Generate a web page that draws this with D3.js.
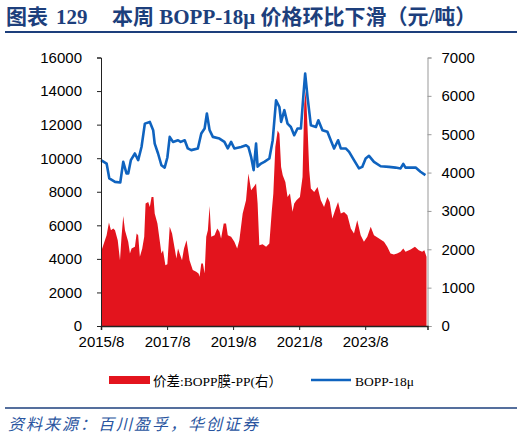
<!DOCTYPE html>
<html>
<head>
<meta charset="utf-8">
<script src="https://cdn.jsdelivr.net/npm/d3@7"></script>
<style>
  body { margin: 0; background: #fff; }
  svg { display: block; }
</style>
</head>
<body>
<svg id="chart" width="522" height="440"></svg>
<script>
// BOPP-18μ price (left axis)
const priceDates = ["2015-08-01","2015-10-02","2015-11-01","2016-01-03","2016-03-01","2016-04-03","2016-05-09","2016-05-28","2016-06-26","2016-08-10","2016-09-15","2016-10-22","2016-11-28","2017-01-22","2017-02-28","2017-03-17","2017-04-23","2017-05-30","2017-07-05","2017-08-04","2017-08-30","2017-10-05","2017-11-30","2017-12-29","2018-02-12","2018-03-18","2018-04-25","2018-07-07","2018-08-14","2018-09-20","2018-10-15","2018-11-14","2018-12-20","2019-03-03","2019-04-27","2019-06-03","2019-07-10","2019-08-15","2019-10-28","2019-12-22","2020-01-17","2020-02-16","2020-03-15","2020-04-11","2020-04-28","2020-06-05","2020-07-11","2020-09-05","2020-10-12","2020-11-18","2020-12-25","2021-01-13","2021-02-18","2021-03-25","2021-05-01","2021-06-07","2021-07-13","2021-08-20","2021-09-18","2021-10-06","2021-11-01","2021-12-08","2022-02-02","2022-03-01","2022-04-15","2022-06-09","2022-07-16","2022-08-22","2022-10-05","2022-11-04","2022-12-29","2023-02-04","2023-03-30","2023-05-24","2023-06-29","2023-08-06","2023-09-12","2023-11-06","2024-01-19","2024-04-19","2024-07-01","2024-08-26","2024-09-25","2024-10-20","2025-02-09","2025-04-03","2025-05-28"];
const priceValues = [9880,9680,8790,8590,8550,9780,9090,9090,9880,10280,9880,10670,12060,12160,11670,10870,10280,9580,9440,10040,11270,10970,11070,10970,11070,10580,10480,10580,11470,11770,12660,11670,11270,11170,10970,10580,10970,10580,10670,10770,10670,10080,9290,10870,9500,9680,9780,9980,11070,13450,13050,12160,12860,12060,11860,11370,11770,11770,13850,15040,13650,11960,11860,12260,11670,11570,11070,10580,11070,10580,10580,10380,9880,9390,9480,9980,10140,9780,9520,9480,9440,9390,9660,9440,9440,9190,8990];

// 价差:BOPP膜-PP (right axis)
const spreadDates = ["2015-08-01","2015-08-26","2015-10-02","2015-10-28","2015-11-19","2015-12-15","2016-01-03","2016-02-02","2016-02-27","2016-03-15","2016-04-03","2016-04-22","2016-05-28","2016-06-16","2016-07-04","2016-08-10","2016-08-29","2016-09-15","2016-10-04","2016-10-30","2016-11-21","2016-12-06","2017-01-04","2017-01-22","2017-02-10","2017-03-03","2017-03-17","2017-04-16","2017-05-11","2017-05-30","2017-06-17","2017-07-13","2017-08-04","2017-08-30","2017-09-25","2017-10-24","2017-11-12","2017-11-30","2017-12-18","2018-01-13","2018-02-04","2018-03-04","2018-04-06","2018-05-12","2018-06-19","2018-07-15","2018-07-26","2018-08-14","2018-09-01","2018-09-20","2018-10-08","2018-10-26","2018-11-14","2018-12-02","2019-01-08","2019-02-07","2019-03-03","2019-03-21","2019-04-19","2019-05-15","2019-06-03","2019-07-10","2019-08-15","2019-09-15","2019-10-09","2019-11-15","2019-12-22","2020-01-17","2020-02-16","2020-03-15","2020-04-11","2020-04-28","2020-05-17","2020-06-22","2020-07-31","2020-09-05","2020-10-01","2020-10-19","2020-11-10","2020-12-06","2020-12-25","2021-01-13","2021-01-31","2021-03-01","2021-03-25","2021-04-21","2021-05-19","2021-06-07","2021-07-02","2021-08-09","2021-09-07","2021-09-26","2021-10-14","2021-11-01","2021-11-20","2021-12-08","2022-01-14","2022-02-20","2022-03-28","2022-05-03","2022-06-09","2022-07-05","2022-08-03","2022-09-02","2022-10-05","2022-11-04","2022-12-10","2023-01-16","2023-02-23","2023-03-30","2023-05-05","2023-06-12","2023-07-18","2023-08-24","2023-10-01","2023-11-06","2024-01-01","2024-02-25","2024-04-01","2024-05-07","2024-06-13","2024-07-19","2024-08-26","2024-09-25","2024-10-20","2024-12-15","2025-02-01","2025-03-16","2025-04-22","2025-05-16","2025-06-09"];
const spreadValues = [1930,2108,2368,2698,2498,2541,2498,2238,1717,2324,2871,2498,2194,1890,2021,2064,2411,2368,1804,2021,2324,3192,3236,3105,3365,3365,2932,2672,2238,1890,1977,1587,1610,2585,2411,2021,1760,2021,1890,1717,2021,2238,1717,1457,1414,1370,1283,1630,1630,1370,2324,2498,3131,2324,2368,2541,2454,2281,2672,2672,2368,2324,2194,2021,2238,2932,3279,3973,3539,3626,3713,3192,2108,2130,2064,2151,2975,3453,4666,5100,5013,4145,3930,3755,3365,3453,2980,3192,3279,3365,3886,5795,6141,5186,4059,3583,3496,3625,3279,3105,3365,3236,2802,3019,3235,2932,2975,2889,2541,2411,2758,2368,2194,2324,2585,2368,2281,2194,2064,1890,1864,1890,1934,2021,1934,1995,2064,1977,1934,1977,1804];

const xTickDates = ["2015-08-01","2017-08-01","2019-08-01","2021-08-01","2023-08-01"];
const xTickLabels = ["2015/8","2017/8","2019/8","2021/8","2023/8"];
const leftTicks = [0,2000,4000,6000,8000,10000,12000,14000,16000];
const rightTicks = [0,1000,2000,3000,4000,5000,6000,7000];
const legendLabels = ["价差:BOPP膜-PP(右）", "BOPP-18μ"];

const parse = d3.timeParse("%Y-%m-%d");
const svg = d3.select("#chart");

const plot = { left: 101, right: 427.5, top: 57.5, bottom: 326 };
const RED = "#e3141d", BLUE = "#0f63bf", NAVY = "#1d3f7c";

const x = d3.scaleTime()
  .domain([parse("2015-08-01"), parse("2025-06-20")])
  .range([plot.left, plot.right]);
const yL = d3.scaleLinear().domain([0, 16000]).range([plot.bottom, plot.top]);
const yR = d3.scaleLinear().domain([0, 7000]).range([plot.bottom, plot.top]);

// title
const title = svg.append("text")
  .attr("y", 24)
  .attr("fill", NAVY)
  .attr("font-weight", "bold")
  .attr("font-size", 21)
  .attr("font-family", "'Liberation Serif', 'Noto Sans CJK SC', serif");
title.append("tspan").attr("x", 6).text("图表");
title.append("tspan").attr("x", 56).text("129");
title.append("tspan").attr("x", 112).text("本周 BOPP-18μ 价格环比下滑（元/吨）");

svg.append("line")
  .attr("x1", 5).attr("x2", 517).attr("y1", 32).attr("y2", 32)
  .attr("stroke", NAVY).attr("stroke-width", 2);

// spread area (right axis)
const spread = spreadDates.map((d, i) => ({ date: parse(d), v: spreadValues[i] }));
svg.append("path")
  .datum(spread)
  .attr("fill", RED)
  .attr("d", d3.area().x(d => x(d.date)).y0(yR(0)).y1(d => yR(d.v)));

// price line (left axis)
const price = priceDates.map((d, i) => ({ date: parse(d), v: priceValues[i] }));
svg.append("path")
  .datum(price)
  .attr("fill", "none")
  .attr("stroke", BLUE)
  .attr("stroke-width", 2.6)
  .attr("stroke-linejoin", "round")
  .attr("d", d3.line().x(d => x(d.date)).y(d => yL(d.v)));

// axes
const tickFont = "'Liberation Sans', Arial, sans-serif";

const gL = svg.append("g")
  .attr("transform", `translate(${plot.left},0)`)
  .call(d3.axisLeft(yL).tickValues(leftTicks).tickFormat(d3.format("d")).tickSize(4).tickPadding(15));
gL.select(".domain").attr("stroke", "#222");
gL.selectAll(".tick line").attr("stroke", "#222");

const gR = svg.append("g")
  .attr("transform", `translate(${plot.right},0)`)
  .call(d3.axisRight(yR).tickValues(rightTicks).tickFormat(d3.format("d")).tickSize(4).tickPadding(10));
gR.select(".domain").attr("stroke", "#999");
gR.selectAll(".tick line").attr("stroke", "#999");

const gX = svg.append("g")
  .attr("transform", `translate(0,${plot.bottom})`)
  .call(d3.axisBottom(x).tickValues(xTickDates.map(parse))
    .tickFormat((d, i) => xTickLabels[i]).tickSize(4).tickPadding(6));
gX.select(".domain").attr("stroke", "#222").attr("stroke-width", 1.5);
gX.selectAll(".tick line").attr("stroke", "#222");

[gL, gR, gX].forEach(g => g.selectAll("text")
  .attr("font-family", tickFont).attr("font-size", 15).attr("fill", "#000"));

// legend
const legendFont = "'Liberation Serif', 'Noto Sans CJK SC', serif";
svg.append("rect")
  .attr("x", 109).attr("y", 376).attr("width", 41).attr("height", 8)
  .attr("fill", RED);
svg.append("text")
  .attr("x", 153).attr("y", 385.5)
  .attr("font-family", legendFont).attr("font-size", 13.5)
  .text(legendLabels[0]);
svg.append("line")
  .attr("x1", 311).attr("x2", 351).attr("y1", 380).attr("y2", 380)
  .attr("stroke", BLUE).attr("stroke-width", 2.6);
svg.append("text")
  .attr("x", 355).attr("y", 385.5)
  .attr("font-family", legendFont).attr("font-size", 13.5)
  .text(legendLabels[1]);

// source
svg.append("line")
  .attr("x1", 5).attr("x2", 517).attr("y1", 408).attr("y2", 408)
  .attr("stroke", NAVY).attr("stroke-width", 1.5);
svg.append("text")
  .attr("x", 8).attr("y", 430)
  .attr("fill", "#2a55a0")
  .attr("font-style", "italic")
  .attr("font-size", 16)
  .attr("letter-spacing", 2)
  .attr("font-family", "'Noto Sans CJK SC', sans-serif")
  .text("资料来源：百川盈孚，华创证券");
</script>
</body>
</html>
